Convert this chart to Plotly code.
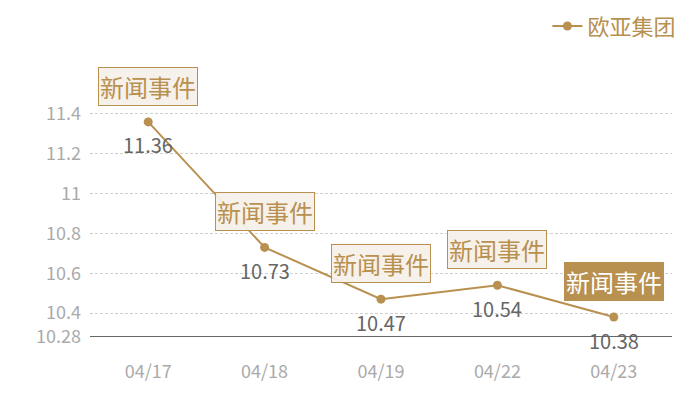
import plotly.graph_objects as go

dates = ["04/17", "04/18", "04/19", "04/22", "04/23"]
values = [11.36, 10.73, 10.47, 10.54, 10.38]
series_name = "欧亚集团"
event_label = "新闻事件"
highlight_index = 4
tick_vals = [10.28, 10.4, 10.6, 10.8, 11, 11.2, 11.4, 11.47]
tick_text = ["10.28", "10.4", "10.6", "10.8", "11", "11.2", "11.4", ""]

GOLD = "#b8904f"
FONT = "Noto Sans CJK SC"

fig = go.Figure()
fig.add_trace(go.Scatter(
    x=dates, y=values, mode="lines+markers", name=series_name,
    line=dict(color=GOLD, width=2),
    marker=dict(color=GOLD, size=9),
))

for i, (d, v) in enumerate(zip(dates, values)):
    hl = i == highlight_index
    fig.add_annotation(
        x=d, y=v, text=event_label, showarrow=False,
        yanchor="bottom", yshift=16,
        font=dict(family=FONT, size=24, color="#ffffff" if hl else GOLD),
        bgcolor=GOLD if hl else "rgba(245,240,233,0.95)",
        bordercolor=GOLD, borderwidth=1, borderpad=1,
    )
    fig.add_annotation(
        x=d, y=v, text=f"{v:.2f}", showarrow=False,
        yanchor="middle", yshift=-23,
        font=dict(family=FONT, size=20, color="#666666"),
    )

fig.update_layout(
    width=700, height=400,
    margin=dict(l=82, r=36, t=92, b=71, autoexpand=False),
    paper_bgcolor="white", plot_bgcolor="white",
    font=dict(family=FONT),
    showlegend=True,
    legend=dict(
        orientation="h", x=0.962, xanchor="right", xref="container",
        y=1.40, yanchor="top", yref="paper",
        font=dict(family=FONT, size=22, color=GOLD),
        itemwidth=30, bgcolor="rgba(0,0,0,0)",
    ),
    xaxis=dict(
        type="category", range=[-0.5, len(dates) - 0.5],
        showgrid=False, zeroline=False,
        showline=False, ticks="",
        tickfont=dict(family=FONT, size=18, color="#aaaaaa"),
        ticklabelstandoff=22,
    ),
    yaxis=dict(
        range=[10.28, 11.47], tickvals=tick_vals, ticktext=tick_text,
        showgrid=True, gridcolor="#d0d0d0", griddash="3px,2px", gridwidth=1,
        zeroline=False, showline=False, ticks="",
        tickfont=dict(family=FONT, size=18, color="#aaaaaa"),
        ticklabelstandoff=8,
    ),
)

fig.add_shape(type="line", xref="paper", yref="y", x0=0, x1=1, y0=10.28, y1=10.28,
              line=dict(color="#333333", width=1.5), layer="above")

fig.write_html("out.html")
